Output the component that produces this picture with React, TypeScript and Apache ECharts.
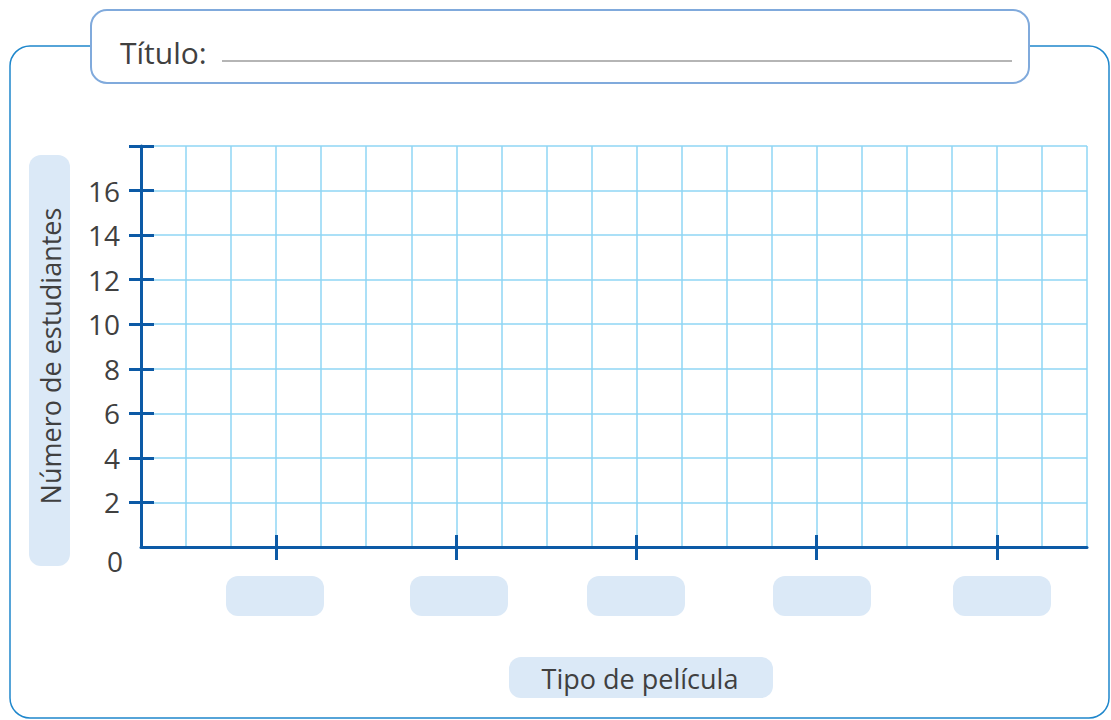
import React, { useEffect, useRef } from "react";
import * as echarts from "echarts";

// Blank bar-graph template: no data values, only the frame
const yMin = 0;
const yMax = 18;
const yStep = 2;
const yTickValues = [2, 4, 6, 8, 10, 12, 14, 16, 18];
const yLabelValues = [2, 4, 6, 8, 10, 12, 14, 16];
const xColumns = 21;
const categoryTickPositions = [3, 7, 11, 15, 19];
const categoryNames = ["", "", "", "", ""];

const titleLabel = "Título:";
const yAxisTitle = "Número de estudiantes";
const xAxisTitle = "Tipo de película";
const zeroLabel = "0";

const FONT = "'Open Sans', 'Noto Sans', sans-serif";
const TEXT = "#404040";
const AXIS = "#0c5aa6";
const GRIDC = "#8fd6f4";
const BOX = "#dbe9f7";

const tickStyle = { color: AXIS, width: 3 };

function xAx(extra: any) {
  return {
    type: "value",
    min: 0,
    max: xColumns,
    interval: 1,
    position: "bottom",
    axisLine: { show: false, onZero: false },
    axisTick: { show: false },
    axisLabel: { show: false },
    splitLine: { show: false },
    ...extra,
  };
}
function yAx(extra: any) {
  return {
    type: "value",
    min: yMin,
    max: yMax,
    interval: yStep,
    position: "left",
    axisLine: { show: false, onZero: false },
    axisTick: { show: false },
    axisLabel: { show: false },
    splitLine: { show: false },
    ...extra,
  };
}

export default function App() {
  const ref = useRef<HTMLDivElement>(null);
  useEffect(() => {
    if (!ref.current) return;
    const chart = echarts.init(ref.current, undefined, { renderer: "svg" });
    const boxXs = [226, 410, 587, 773, 953];
    const option: any = {
      animation: false,
      backgroundColor: "#ffffff",
      grid: { left: 141, top: 146, right: 24, bottom: 173, containLabel: false },
      xAxis: [
        xAx({
          splitLine: { show: true, lineStyle: { color: GRIDC, width: 1.5 } },
        }),
        xAx({
          axisLine: { show: true, onZero: false, lineStyle: { color: AXIS, width: 3 } },
          axisTick: { show: true, customValues: categoryTickPositions, length: 13, lineStyle: tickStyle },
          z: 5,
        }),
        xAx({
          axisTick: { show: true, inside: true, customValues: categoryTickPositions, length: 12, lineStyle: tickStyle },
          z: 5,
        }),
      ],
      yAxis: [
        yAx({
          splitLine: { show: true, lineStyle: { color: GRIDC, width: 1.5 } },
          axisLabel: {
            show: true,
            customValues: yLabelValues,
            margin: 21,
            color: TEXT,
            fontSize: 28,
            fontFamily: FONT,
          },
        }),
        yAx({
          axisLine: { show: true, onZero: false, lineStyle: { color: AXIS, width: 3 } },
          axisTick: { show: true, customValues: yTickValues, length: 12, lineStyle: tickStyle },
          z: 5,
        }),
        yAx({
          axisTick: { show: true, inside: true, customValues: yTickValues, length: 13, lineStyle: tickStyle },
          z: 5,
        }),
      ],
      series: [
        {
          type: "bar",
          xAxisIndex: 0,
          yAxisIndex: 0,
          data: categoryNames.map((_, i) => [categoryTickPositions[i], null]),
        },
      ],
      graphic: [
        {
          type: "rect",
          z: 1,
          shape: { x: 10, y: 46, width: 1099, height: 672, r: 20 },
          style: { fill: "none", stroke: "#1f87cc", lineWidth: 1.5 },
        },
        {
          type: "rect",
          z: 2,
          shape: { x: 91, y: 10, width: 938, height: 73, r: 16 },
          style: { fill: "#ffffff", stroke: "#80aadc", lineWidth: 2 },
        },
        {
          type: "text",
          z: 3,
          x: 120,
          y: 52,
          style: { text: titleLabel, fill: TEXT, fontSize: 30, fontFamily: FONT, align: "left", verticalAlign: "middle" },
        },
        {
          type: "line",
          z: 3,
          shape: { x1: 222, y1: 61, x2: 1012, y2: 61 },
          style: { stroke: "#b5b5b5", lineWidth: 2 },
        },
        {
          type: "rect",
          z: 1,
          shape: { x: 29, y: 155, width: 41, height: 411, r: 12 },
          style: { fill: BOX },
        },
        {
          type: "text",
          z: 3,
          x: 50,
          y: 356,
          rotation: Math.PI / 2,
          style: { text: yAxisTitle, fill: TEXT, fontSize: 27, fontFamily: FONT, align: "center", verticalAlign: "middle" },
        },
        ...boxXs.map((bx) => ({
          type: "rect",
          z: 1,
          shape: { x: bx, y: 576, width: 98, height: 40, r: 12 },
          style: { fill: BOX },
        })),
        {
          type: "rect",
          z: 1,
          shape: { x: 509, y: 657, width: 264, height: 41, r: 12 },
          style: { fill: BOX },
        },
        {
          type: "text",
          z: 3,
          x: 640,
          y: 678,
          style: { text: xAxisTitle, fill: TEXT, fontSize: 27, fontFamily: FONT, align: "center", verticalAlign: "middle" },
        },
        {
          type: "text",
          z: 3,
          x: 123,
          y: 561,
          style: { text: zeroLabel, fill: TEXT, fontSize: 28, fontFamily: FONT, align: "right", verticalAlign: "middle" },
        },
      ],
    };
    chart.setOption(option);
    return () => chart.dispose();
  }, []);
  return (
    <div
      ref={ref}
      style={{ position: "fixed", left: 0, top: 0, width: 1111, height: 720, background: "#fff" }}
    />
  );
}
